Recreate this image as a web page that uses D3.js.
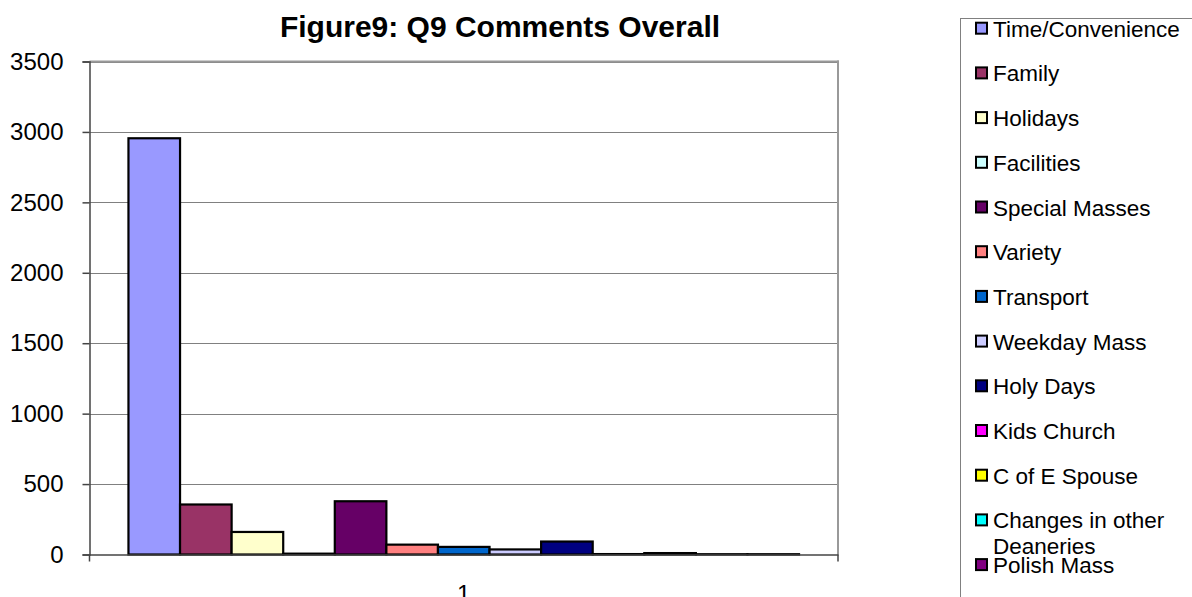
<!DOCTYPE html>
<html>
<head>
<meta charset="utf-8">
<script src="https://cdn.jsdelivr.net/npm/d3@7"></script>
<style>
html,body{margin:0;padding:0;background:#fff;}
svg{display:block;font-family:"Liberation Sans",Arial,sans-serif;}
</style>
</head>
<body>
<svg id="chart" width="1192" height="597"></svg>
<script>
const categories = ["1"];
const seriesNames = ["Time/Convenience","Family","Holidays","Facilities","Special Masses","Variety","Transport","Weekday Mass","Holy Days","Kids Church","C of E Spouse","Changes in other Deaneries","Polish Mass"];
const seriesValues = [2955, 355, 160, 6, 378, 70, 54, 36, 92, 3, 10, 2, 2];
const seriesColors = ["#9999FF","#993366","#FFFFCC","#CCFFFF","#660066","#FF8080","#0066CC","#CCCCFF","#000080","#FF00FF","#FFFF00","#00FFFF","#800080"];
const yTicks = [0,500,1000,1500,2000,2500,3000,3500];
const titleText = "Figure9: Q9 Comments Overall";

const svg = d3.select("#chart");
const plot = {left: 89.5, top: 61.5, right: 838, bottom: 554.5};

const y = d3.scaleLinear().domain([0,3500]).range([plot.bottom, plot.top]);
const x0 = d3.scaleBand().domain(categories).range([plot.left, plot.right]).paddingInner(0).paddingOuter(0.0581);
const x1 = d3.scaleBand().domain(seriesNames).range([0, x0.bandwidth()]).padding(0);

// title
svg.append("text").attr("x", 500).attr("y", 37).attr("text-anchor","middle")
  .attr("font-size", 30).attr("font-weight","bold").attr("fill","#000").text(titleText);

// gridlines
svg.append("g").selectAll("line").data(yTicks.filter(d=>d>0)).join("line")
  .attr("x1", plot.left).attr("x2", plot.right)
  .attr("y1", d=>Math.round(y(d))+0.5).attr("y2", d=>Math.round(y(d))+0.5)
  .attr("stroke","#808080").attr("stroke-width",1.2);

// plot border right/top
svg.append("line").attr("x1", plot.right).attr("x2", plot.right).attr("y1", plot.top-1).attr("y2", plot.bottom)
  .attr("stroke","#999").attr("stroke-width",2);
svg.append("line").attr("x1", plot.left).attr("x2", plot.right+1).attr("y1", plot.top).attr("y2", plot.top)
  .attr("stroke","#999").attr("stroke-width",2);

// bars
const g = svg.append("g").selectAll("g").data(categories).join("g")
  .attr("transform", d=>`translate(${x0(d)},0)`);
g.selectAll("rect").data(seriesNames.map((n,i)=>({n, v: seriesValues[i], c: seriesColors[i]}))).join("rect")
  .attr("x", d=>x1(d.n)).attr("width", x1.bandwidth())
  .attr("y", d=>y(d.v)).attr("height", d=>plot.bottom - y(d.v))
  .attr("fill", d=>d.c).attr("stroke","#000").attr("stroke-width",2.2);

// y axis
const yAxis = d3.axisLeft(y).tickValues(yTicks).tickSize(7).tickPadding(19).tickFormat(d3.format("d"));
const ya = svg.append("g").attr("transform", `translate(${plot.left},0)`).call(yAxis);
ya.select(".domain").attr("stroke","#444").attr("stroke-width",1.5);
ya.selectAll(".tick line").attr("stroke","#444").attr("stroke-width",1.5);
ya.selectAll(".tick text").attr("font-size",24).attr("fill","#000").attr("font-family","Liberation Sans, Arial, sans-serif");

// x axis
const xAxis = d3.axisBottom(x0).tickSize(0).tickPadding(30);
const xa = svg.append("g").attr("transform", `translate(0,${plot.bottom})`).call(xAxis);
xa.select(".domain").attr("stroke","#444").attr("stroke-width",1.5);
xa.selectAll(".tick text").attr("font-size",24).attr("fill","#000").attr("font-family","Liberation Sans, Arial, sans-serif").attr("dy","0.71em");
// category boundary ticks
xa.append("g").selectAll("line").data([plot.left, plot.right]).join("line")
  .attr("x1", d=>d).attr("x2", d=>d).attr("y1", 0).attr("y2", 7)
  .attr("stroke","#444").attr("stroke-width",1.5);

// legend
const lg = svg.append("g");
lg.append("rect").attr("x", 960.5).attr("y", 18.5).attr("width", 240).attr("height", 600)
  .attr("fill","#fff").attr("stroke","#808080").attr("stroke-width",1);
const rowH = 44.7, base0 = 36.7;
seriesNames.forEach((n,i)=>{
  const by = base0 + i*rowH;
  lg.append("rect").attr("x", 976).attr("y", by-14).attr("width", 11).attr("height", 11)
    .attr("fill", seriesColors[i]).attr("stroke","#000").attr("stroke-width",2);
  const t = lg.append("text").attr("x", 993).attr("y", by).attr("font-size", 22.5).attr("fill","#000");
  if (n === "Changes in other Deaneries") {
    t.append("tspan").attr("x",993).attr("y",by).text("Changes in other");
    t.append("tspan").attr("x",993).attr("y",by+26).text("Deaneries");
  } else {
    t.text(n);
  }
});
</script>
</body>
</html>
